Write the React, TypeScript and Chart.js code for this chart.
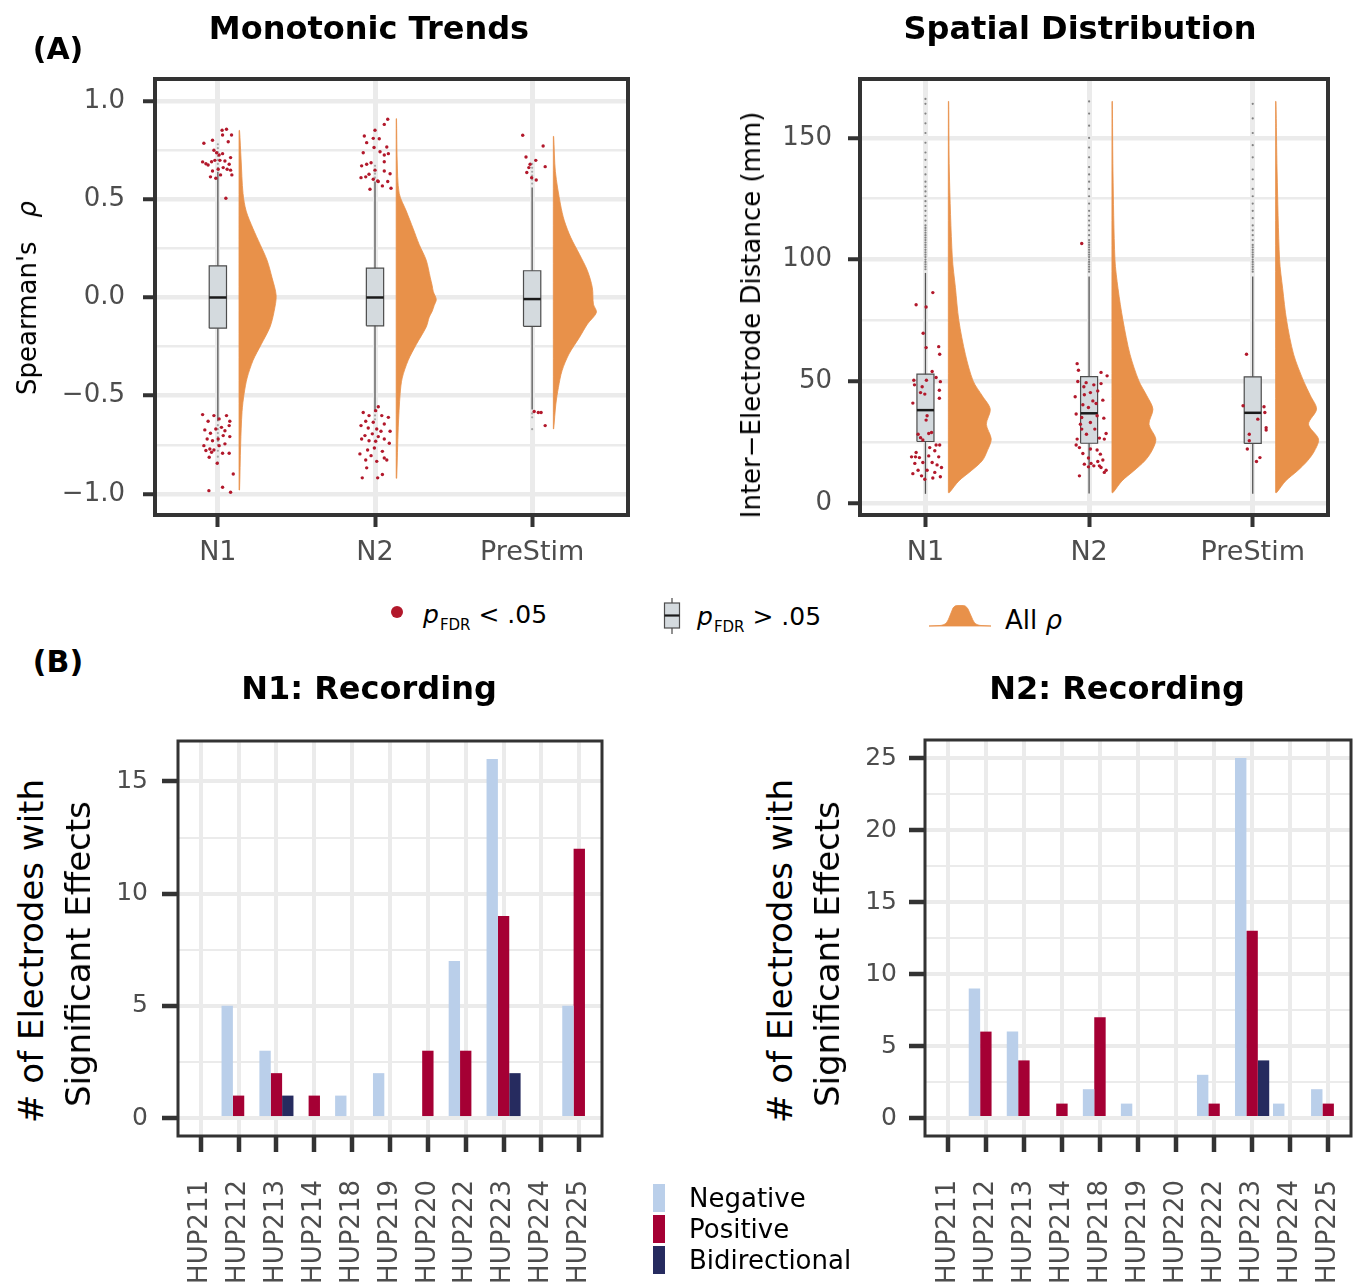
import React, { useEffect, useRef } from 'react';
import { Chart, registerables } from 'chart.js';

Chart.register(...registerables);

const FONT = "'DejaVu Sans', 'Liberation Sans', sans-serif";
const GRID = '#ebebeb';
const TICK_TEXT = '#4d4d4d';
const AXIS_DARK = '#333333';
const ORANGE = '#e8914a';
const SIG_RED = '#b2182b';
const BOX_FILL = '#d4dade';
const BOX_LINE = '#4d4d4d';
const NEG = '#bacfea';
const POS = '#a50034';
const BID = '#262b5f';

// ---------------- Panel A: data ----------------
const rhoGroups = ['N1', 'N2', 'PreStim'];
const rhoMajorTicks = [-1, -0.5, 0, 0.5, 1];
const rhoMajorLabels = ['\u22121.0', '\u22120.5', '0.0', '0.5', '1.0'];
const rhoMinorTicks = [-0.75, -0.25, 0.25, 0.75];

// [lower whisker, Q1, median, Q3, upper whisker]
const rhoBoxN1 = [-0.63, -0.156, 0.0, 0.161, 0.64];
const rhoBoxN2 = [-0.58, -0.144, 0.0, 0.149, 0.59];
const rhoBoxPre = [-0.57, -0.147, -0.008, 0.136, 0.56];

// [rho, half-violin width]
const rhoViolinN1 = [[0.85, 0.003], [0.70, 0.013], [0.53, 0.025], [0.44, 0.045], [0.35, 0.089], [0.27, 0.134], [0.19, 0.178], [0.10, 0.21], [0.01, 0.236], [-0.07, 0.223], [-0.15, 0.197], [-0.24, 0.14], [-0.32, 0.089], [-0.41, 0.051], [-0.49, 0.032], [-0.58, 0.019], [-0.75, 0.01], [-0.98, 0.003]];
const rhoViolinN2 = [[0.91, 0.002], [0.70, 0.006], [0.53, 0.019], [0.44, 0.064], [0.35, 0.108], [0.27, 0.146], [0.19, 0.191], [0.10, 0.217], [0.06, 0.229], [0.03, 0.236], [-0.01, 0.255], [-0.04, 0.242], [-0.07, 0.229], [-0.10, 0.21], [-0.15, 0.191], [-0.24, 0.127], [-0.32, 0.076], [-0.41, 0.038], [-0.49, 0.025], [-0.66, 0.013], [-0.92, 0.003]];
const rhoViolinPre = [[0.82, 0.002], [0.64, 0.013], [0.475, 0.045], [0.39, 0.07], [0.305, 0.111], [0.22, 0.166], [0.136, 0.217], [0.05, 0.248], [-0.034, 0.255], [-0.076, 0.274], [-0.135, 0.217], [-0.203, 0.166], [-0.288, 0.099], [-0.373, 0.055], [-0.458, 0.032], [-0.542, 0.016], [-0.669, 0.002]];

// significant electrodes: [jitter, rho]
const rhoSigN1 = [[0.027, 0.851], [0.055, 0.856], [0.087, 0.827], [0.030, 0.827], [-0.089, 0.785], [-0.034, 0.800], [0.066, 0.793], [-0.025, 0.749], [-0.008, 0.737], [0.030, 0.732], [0.008, 0.725], [0.081, 0.712], [-0.097, 0.690], [-0.076, 0.681], [-0.062, 0.674], [-0.040, 0.691], [-0.019, 0.698], [0.013, 0.698], [0.045, 0.695], [0.072, 0.678], [-0.034, 0.644], [0.002, 0.653], [0.034, 0.661], [0.059, 0.653], [0.081, 0.648], [-0.047, 0.614], [-0.013, 0.607], [0.017, 0.624], [0.089, 0.624], [0.051, 0.505],
  [-0.097, -0.596], [-0.062, -0.630], [-0.025, -0.601], [0.008, -0.618], [0.055, -0.601], [0.076, -0.630], [-0.083, -0.674], [-0.047, -0.691], [-0.013, -0.669], [0.023, -0.661], [0.045, -0.678], [0.072, -0.652], [-0.068, -0.720], [-0.034, -0.729], [0.002, -0.720], [0.034, -0.703], [0.076, -0.708], [-0.089, -0.754], [-0.051, -0.771], [-0.025, -0.776], [0.008, -0.754], [0.045, -0.745], [-0.076, -0.779], [-0.040, -0.788], [0.030, -0.793], [0.072, -0.793], [-0.055, -0.813], [-0.004, -0.844], [0.098, -0.898], [-0.057, -0.983], [0.030, -0.966], [0.081, -0.991]];
const rhoSigN2 = [[0.081, 0.907], [0.059, 0.881], [0, 0.851], [-0.068, 0.822], [-0.011, 0.810], [0.027, 0.808], [-0.053, 0.788], [-0.006, 0.763], [0.075, 0.766], [-0.075, 0.737], [0.032, 0.742], [0.059, 0.725], [0.085, 0.732], [-0.025, 0.686], [-0.053, 0.678], [-0.085, 0.670], [0.059, 0.691], [0, 0.648], [0.059, 0.644], [0.096, 0.630], [-0.089, 0.610], [-0.059, 0.614], [-0.038, 0.627], [-0.011, 0.602], [0.017, 0.593], [0.047, 0.568], [0.081, 0.590], [0.102, 0.556], [-0.032, 0.551], [0.021, 0.590],
  [0.021, -0.556], [0.004, -0.576], [-0.075, -0.585], [-0.038, -0.601], [0.043, -0.601], [0.085, -0.610], [-0.059, -0.630], [-0.011, -0.635], [0.059, -0.644], [-0.089, -0.652], [-0.043, -0.664], [0.011, -0.669], [0.038, -0.681], [0.096, -0.681], [-0.064, -0.703], [-0.017, -0.694], [0.021, -0.708], [0.059, -0.720], [-0.085, -0.720], [-0.038, -0.729], [0.004, -0.732], [0.091, -0.742], [-0.047, -0.776], [-0.004, -0.766], [0.047, -0.783], [-0.096, -0.796], [-0.025, -0.805], [0.059, -0.817], [0.075, -0.827], [-0.059, -0.827], [0.011, -0.834], [-0.053, -0.867], [-0.081, -0.918], [0.017, -0.918], [0.047, -0.901]];
const rhoSigPre = [[-0.060, 0.826], [0.070, 0.771], [-0.039, 0.715], [0.023, 0.698], [-0.013, 0.678], [0.083, 0.666], [-0.021, 0.661], [-0.034, 0.636], [-0.003, 0.610], [0.026, 0.598],
  [0.039, -0.585], [0.057, -0.585], [0.013, -0.580], [0.083, -0.652]];

// box-plot outliers (rho)
const rhoOutN1 = [0.66, 0.68, 0.70, 0.72, 0.74, 0.76, 0.78, -0.65, -0.67, -0.69, -0.71, -0.73, -0.75, -0.78, -0.81, -0.84];
const rhoOutN2 = [0.61, 0.63, 0.65, 0.67, -0.60, -0.62];
const rhoOutPre = [0.58, 0.60, 0.62, 0.64, 0.66, 0.68, -0.59, -0.61, -0.67];

// ---------------- Panel A right: distance ----------------
const distMajorTicks = [0, 50, 100, 150];
const distMajorLabels = ['0', '50', '100', '150'];
const distMinorTicks = [25, 75, 125];

const distBoxN1 = [3.7, 25.2, 38.1, 52.9, 94.5];
const distBoxN2 = [3.8, 24.5, 36.8, 51.9, 93];
const distBoxPre = [3.7, 24.4, 37.0, 51.8, 93];

const distViolinN1 = [[165, 0.002], [136, 0.006], [101, 0.024], [88.5, 0.043], [75, 0.064], [61, 0.104], [50, 0.152], [44, 0.207], [38.5, 0.256], [32.3, 0.232], [26.2, 0.262], [21.4, 0.238], [17.3, 0.207], [13.2, 0.14], [9, 0.064], [4.2, 0.006]];
const distViolinN2 = [[165, 0.002], [136, 0.006], [100, 0.018], [88, 0.037], [75, 0.067], [61, 0.11], [50, 0.165], [44, 0.213], [38.5, 0.25], [32.3, 0.226], [26.2, 0.268], [21.4, 0.244], [17.3, 0.201], [13.2, 0.134], [9, 0.061], [4.2, 0.006]];
const distViolinPre = [[165, 0.002], [136, 0.009], [100, 0.024], [88, 0.043], [75, 0.067], [61, 0.11], [50, 0.171], [44, 0.213], [38.5, 0.25], [32.3, 0.201], [26.2, 0.262], [21.4, 0.238], [17.3, 0.195], [13.2, 0.134], [9, 0.061], [4.2, 0.006]];

const distSigN1 = [[0.045, 86.4], [-0.057, 81.4], [0.004, 80.5], [-0.014, 69.7], [0.004, 63.8], [0.081, 64.2], [0.087, 61.1], [0.041, 54.0], [-0.071, 50.4], [-0.067, 48.5], [-0.020, 47.7], [0.006, 50.4], [0.065, 51.5], [0.091, 49.8], [0.085, 46.3], [-0.030, 45.3], [-0.004, 44.7], [-0.077, 41.0], [0.085, 43.0], [0.010, 35.8], [0.004, 34.0], [-0.045, 28.2], [0.020, 28.5], [0.037, 28.9], [-0.030, 26.8], [-0.016, 25.8], [0.065, 23.8], [0.087, 23.8], [0.026, 22.7], [-0.057, 20.7], [0.057, 21.4], [-0.085, 18.9], [-0.037, 18.6], [0.020, 19.3], [0.081, 18.9], [-0.065, 16.2], [-0.016, 16.6], [0.041, 16.6], [0.071, 15.6], [0.098, 14.5], [-0.045, 13.4], [0.010, 13.4], [0.057, 12.5], [-0.077, 12.0], [-0.024, 11.1], [-0.004, 9.7], [0.045, 10.2], [0.091, 10.7], [-0.061, 18.9]];
const distSigN2 = [[-0.045, 106.6], [-0.073, 57.2], [-0.065, 54.5], [0.073, 53.6], [0.110, 52.2], [-0.069, 49.9], [-0.018, 49.4], [0.029, 48.5], [0.073, 49.0], [-0.032, 47.7], [0.008, 45.3], [0.053, 46.0], [-0.085, 43.6], [-0.029, 44.4], [0.023, 41.9], [0.043, 40.8], [0.084, 42.2], [-0.038, 40.3], [-0.004, 39.2], [-0.079, 36.5], [-0.045, 35.1], [0.049, 35.8], [0.090, 34.8], [-0.053, 32.3], [0.008, 33.0], [-0.045, 30.3], [0.035, 30.3], [0.104, 28.5], [-0.016, 28.2], [-0.073, 26.2], [0.063, 26.6], [0.093, 26.2], [-0.079, 23.8], [-0.059, 22.7], [0.008, 22.1], [0.049, 21.7], [-0.038, 20.3], [0.069, 20.0], [-0.004, 18.4], [0.084, 17.6], [0.012, 16.2], [0.053, 17.0], [-0.004, 14.8], [0.029, 15.2], [0.073, 14.5], [0.104, 13.4], [0.093, 12.5], [-0.059, 11.1], [0.063, 15.2], [-0.029, 15.9]];
const distSigPre = [[-0.038, 61.1], [-0.059, 39.9], [0.069, 39.5], [0.031, 34.4], [0.074, 37.1], [0.082, 30.9], [0.082, 29.9], [-0.021, 28.2], [-0.021, 25.5], [-0.033, 22.1], [0.044, 18.6], [0.023, 17.0]];

const distOutN1 = [96, 97, 98, 99, 100, 101, 102, 103, 104, 105, 106, 107, 108, 109, 110, 111, 112, 113, 114, 116, 118, 120, 122, 124, 126, 128, 130, 132, 135, 138, 141, 144, 148, 152, 156, 160, 164, 166];
const distOutN2 = [95, 96, 97, 98, 99, 100, 101, 102, 103, 104, 105, 106, 107, 108, 110, 112, 114, 116, 118, 120, 123, 126, 129, 132, 135, 138, 142, 146, 150, 155, 160, 165];
const distOutPre = [95, 96, 97, 98, 99, 100, 101, 102, 103, 104, 105, 106, 108, 110, 112, 114, 117, 120, 123, 126, 129, 133, 137, 142, 147, 152, 158, 164];

// ---------------- Panel B: bars ----------------
const patients = ['HUP211', 'HUP212', 'HUP213', 'HUP214', 'HUP218', 'HUP219', 'HUP220', 'HUP222', 'HUP223', 'HUP224', 'HUP225'];
const effectTypes = ['Negative', 'Positive', 'Bidirectional'];
const n1Negative = [0, 5, 3, 0, 1, 2, 0, 7, 16, 0, 5];
const n1Positive = [0, 1, 2, 1, 0, 0, 3, 3, 9, 0, 12];
const n1Bidirectional = [0, 0, 1, 0, 0, 0, 0, 0, 2, 0, 0];
const n2Negative = [0, 9, 6, 0, 2, 1, 0, 3, 25, 1, 2];
const n2Positive = [0, 6, 4, 1, 7, 0, 0, 1, 13, 0, 1];
const n2Bidirectional = [0, 0, 0, 0, 0, 0, 0, 0, 4, 0, 0];
const n1MajorTicks = [0, 5, 10, 15];
const n1MinorTicks = [2.5, 7.5, 12.5];
const n2MajorTicks = [0, 5, 10, 15, 20, 25];
const n2MinorTicks = [2.5, 7.5, 12.5, 17.5, 22.5];

// ---------------- helpers ----------------
const panelBorder = {
  id: 'panelBorder',
  afterDraw(chart: any, _args: any, opts: any) {
    const { ctx, chartArea } = chart;
    const { left, top, right, bottom } = chartArea;
    ctx.save();
    ctx.strokeStyle = opts.color || AXIS_DARK;
    ctx.lineWidth = opts.width || 3;
    ctx.strokeRect(left, top, right - left, bottom - top);
    ctx.restore();
  },
};

function violinPolygon(base: number, profile: number[][]) {
  const sorted = [...profile].sort((a, b) => a[0] - b[0]);
  const yMin = sorted[0][0];
  const yMax = sorted[sorted.length - 1][0];
  return [
    { x: base, y: yMin },
    ...sorted.map(([y, w]) => ({ x: base + w, y })),
    { x: base, y: yMax },
    { x: base, y: yMin },
  ];
}

function raincloudDatasets(boxes: number[][], violins: number[][][], sig: number[][][], outs: number[][], boxHalf: number, violinOffset: number, outColor: string) {
  const ds: any[] = [];
  boxes.forEach((b, i) => {
    const c = i + 1;
    const [lo, q1, med, q3, hi] = b;
    ds.push({ data: violinPolygon(c + violinOffset, violins[i]), showLine: true, fill: 'shape', tension: 0.3, backgroundColor: ORANGE, borderColor: ORANGE, borderWidth: 0.8, pointRadius: 0, order: 6 });
    ds.push({ data: [{ x: c, y: lo }, { x: c, y: hi }], showLine: true, fill: false, borderColor: '#555555', borderWidth: 1.3, pointRadius: 0, order: 5 });
    ds.push({ data: outs[i].map((v) => ({ x: c, y: v })), showLine: false, pointRadius: 1.1, backgroundColor: outColor, borderColor: 'rgba(0,0,0,0)', pointBorderWidth: 0, order: 5 });
    ds.push({ data: [{ x: c - boxHalf, y: q1 }, { x: c + boxHalf, y: q1 }, { x: c + boxHalf, y: q3 }, { x: c - boxHalf, y: q3 }, { x: c - boxHalf, y: q1 }], showLine: true, fill: 'shape', backgroundColor: BOX_FILL, borderColor: BOX_LINE, borderWidth: 1.2, pointRadius: 0, order: 4 });
    ds.push({ data: [{ x: c - boxHalf, y: med }, { x: c + boxHalf, y: med }], showLine: true, fill: false, borderColor: '#1a1a1a', borderWidth: 2.5, pointRadius: 0, order: 3 });
    ds.push({ data: sig[i].map(([dx, v]) => ({ x: c + dx, y: v })), showLine: false, pointRadius: 1.7, backgroundColor: SIG_RED, borderColor: SIG_RED, pointBorderWidth: 0, order: 1 });
  });
  return ds;
}

function valueAxis(o: { min: number; max: number; major: number[]; minor: number[]; labels: string[]; width: number; padding: number; tickLength: number; majorWidth: number; minorWidth: number; tickWidth: number; fontSize: number }) {
  const all = [...o.major, ...o.minor].sort((a, b) => a - b);
  const isMajor = (v: any) => o.major.indexOf(v) >= 0;
  return {
    type: 'linear',
    min: o.min,
    max: o.max,
    afterBuildTicks: (s: any) => { s.ticks = all.map((v) => ({ value: v })); },
    afterFit: (s: any) => { s.width = o.width; s.paddingTop = 0; s.paddingBottom = 0; s.paddingLeft = 0; s.paddingRight = 0; },
    ticks: {
      autoSkip: false,
      padding: o.padding,
      color: TICK_TEXT,
      font: { family: FONT, size: o.fontSize },
      callback: (v: any) => { const i = o.major.indexOf(v); return i >= 0 ? o.labels[i] : ''; },
    },
    grid: {
      color: GRID,
      lineWidth: (ctx: any) => (ctx.tick && isMajor(ctx.tick.value) ? o.majorWidth : o.minorWidth),
      tickColor: (ctx: any) => (ctx.tick && isMajor(ctx.tick.value) ? AXIS_DARK : 'rgba(0,0,0,0)'),
      tickWidth: o.tickWidth,
      tickLength: o.tickLength,
      drawTicks: true,
    },
    border: { display: false },
  };
}

function categoryAxis(o: { min: number; max: number; labels: string[]; height: number; padding: number; tickLength: number; gridWidth: number; tickWidth: number; fontSize: number; rotate: boolean }) {
  return {
    type: 'linear',
    min: o.min,
    max: o.max,
    offset: false,
    afterBuildTicks: (s: any) => { s.ticks = o.labels.map((_, i) => ({ value: i + 1 })); },
    afterFit: (s: any) => { s.height = o.height; s.paddingTop = 0; s.paddingBottom = 0; s.paddingLeft = 0; s.paddingRight = 0; },
    ticks: {
      autoSkip: false,
      padding: o.padding,
      color: TICK_TEXT,
      font: { family: FONT, size: o.fontSize },
      minRotation: o.rotate ? 90 : 0,
      maxRotation: o.rotate ? 90 : 0,
      callback: (_v: any, i: number) => o.labels[i],
    },
    grid: { color: GRID, lineWidth: o.gridWidth, tickColor: AXIS_DARK, tickWidth: o.tickWidth, tickLength: o.tickLength, drawTicks: true, offset: false },
    border: { display: false },
  };
}

function baseOptions(padding: any, borderWidth: number) {
  return {
    animation: false,
    responsive: false,
    maintainAspectRatio: false,
    events: [],
    layout: { padding },
    plugins: { legend: { display: false }, tooltip: { enabled: false }, title: { display: false }, panelBorder: { color: AXIS_DARK, width: borderWidth } },
  };
}

function makeRhoChart(canvas: HTMLCanvasElement) {
  return new Chart(canvas, {
    type: 'scatter',
    data: { datasets: raincloudDatasets([rhoBoxN1, rhoBoxN2, rhoBoxPre], [rhoViolinN1, rhoViolinN2, rhoViolinPre], [rhoSigN1, rhoSigN2, rhoSigPre], [rhoOutN1, rhoOutN2, rhoOutPre], 0.055, 0.135, 'rgba(80,80,80,0.45)') },
    options: {
      ...baseOptions({ left: 0, top: 49, right: 12, bottom: 0 }, 4),
      scales: {
        x: categoryAxis({ min: 0.6, max: 3.61, labels: rhoGroups, height: 76, padding: 10, tickLength: 12, gridWidth: 5, tickWidth: 4, fontSize: 27, rotate: false }),
        y: valueAxis({ min: -1.107, max: 1.112, major: rhoMajorTicks, minor: rhoMinorTicks, labels: rhoMajorLabels, width: 155, padding: 18, tickLength: 12, majorWidth: 4.5, minorWidth: 2.5, tickWidth: 4, fontSize: 26 }),
      },
    } as any,
    plugins: [panelBorder],
  } as any);
}

function makeDistChart(canvas: HTMLCanvasElement) {
  return new Chart(canvas, {
    type: 'scatter',
    data: { datasets: raincloudDatasets([distBoxN1, distBoxN2, distBoxPre], [distViolinN1, distViolinN2, distViolinPre], [distSigN1, distSigN2, distSigPre], [distOutN1, distOutN2, distOutPre], 0.052, 0.14, 'rgba(60,60,60,0.6)') },
    options: {
      ...baseOptions({ left: 0, top: 49, right: 32, bottom: 0 }, 4),
      scales: {
        x: categoryAxis({ min: 0.6, max: 3.46, labels: rhoGroups, height: 76, padding: 10, tickLength: 12, gridWidth: 5, tickWidth: 4, fontSize: 27, rotate: false }),
        y: valueAxis({ min: -5, max: 174.2, major: distMajorTicks, minor: distMinorTicks, labels: distMajorLabels, width: 170, padding: 16, tickLength: 12, majorWidth: 4.5, minorWidth: 2.5, tickWidth: 4, fontSize: 26 }),
      },
    } as any,
    plugins: [panelBorder],
  } as any);
}

function barDatasets(neg: number[], pos: number[], bid: number[]) {
  const series = [neg, pos, bid];
  const colors = [NEG, POS, BID];
  return effectTypes.map((name, k) => ({
    label: name,
    data: patients.map((_, i) => ({ x: i + 1, y: series[k][i] })),
    backgroundColor: colors[k],
    borderWidth: 0,
    categoryPercentage: 0.9,
    barPercentage: 1,
    grouped: true,
  }));
}

function makeBarChart(canvas: HTMLCanvasElement, which: 'n1' | 'n2') {
  const isN1 = which === 'n1';
  const major = isN1 ? n1MajorTicks : n2MajorTicks;
  const minor = isN1 ? n1MinorTicks : n2MinorTicks;
  return new Chart(canvas, {
    type: 'bar',
    data: { datasets: isN1 ? barDatasets(n1Negative, n1Positive, n1Bidirectional) : barDatasets(n2Negative, n2Positive, n2Bidirectional) },
    options: {
      ...baseOptions(isN1 ? { left: 0, top: 41, right: 18, bottom: 0 } : { left: 0, top: 40, right: 9, bottom: 0 }, 3),
      scales: {
        x: categoryAxis({ min: 0.4, max: 11.6, labels: patients, height: 150, padding: 28, tickLength: 16, gridWidth: 4, tickWidth: 4.5, fontSize: 26, rotate: true }),
        y: valueAxis({ min: isN1 ? -0.8 : -1.25, max: isN1 ? 16.8 : 26.25, major, minor, labels: major.map(String), width: isN1 ? 88 : 85, padding: isN1 ? 14 : 12, tickLength: 16, majorWidth: 4, minorWidth: 2, tickWidth: 4.5, fontSize: 25 }),
      },
    } as any,
    plugins: [panelBorder],
  } as any);
}

function ChartCanvas(props: { left: number; top: number; width: number; height: number; make: (c: HTMLCanvasElement) => any }) {
  const ref = useRef<HTMLCanvasElement>(null);
  useEffect(() => {
    const chart = props.make(ref.current as HTMLCanvasElement);
    return () => chart.destroy();
  }, []);
  return (
    <canvas
      ref={ref}
      width={props.width}
      height={props.height}
      style={{ position: 'absolute', left: props.left, top: props.top, width: props.width, height: props.height }}
    />
  );
}

function Label(props: { x: number; y: number; size: number; bold?: boolean; rotate?: boolean; color?: string; children: any }) {
  return (
    <div
      style={{
        position: 'absolute',
        left: props.x,
        top: props.y,
        transform: `translate(-50%, -50%)${props.rotate ? ' rotate(-90deg)' : ''}`,
        fontFamily: FONT,
        fontSize: props.size,
        fontWeight: props.bold ? 700 : 400,
        lineHeight: 1,
        whiteSpace: 'nowrap',
        color: props.color || '#000',
      }}
    >
      {props.children}
    </div>
  );
}

function PFdr(props: { sign: string }) {
  return (
    <span>
      <span style={{ fontStyle: 'italic' }}>p</span>
      <span style={{ fontSize: 15, position: 'relative', top: 7, marginLeft: 1 }}>FDR</span>
      <span>{` ${props.sign} .05`}</span>
    </span>
  );
}

export default function App() {
  const legendKeys = [NEG, POS, BID];
  return (
    <div style={{ position: 'absolute', left: 0, top: 0, width: 1360, height: 1286, background: '#ffffff', overflow: 'hidden' }}>
      <ChartCanvas left={0} top={30} width={640} height={561} make={makeRhoChart} />
      <ChartCanvas left={690} top={30} width={670} height={561} make={makeDistChart} />
      <ChartCanvas left={90} top={700} width={530} height={586} make={(c) => makeBarChart(c, 'n1')} />
      <ChartCanvas left={840} top={700} width={520} height={586} make={(c) => makeBarChart(c, 'n2')} />

      <Label x={58} y={49} size={30} bold>(A)</Label>
      <Label x={369} y={28} size={32} bold>Monotonic Trends</Label>
      <Label x={1080} y={28} size={32} bold>Spatial Distribution</Label>
      <Label x={58} y={662} size={30} bold>(B)</Label>
      <Label x={369} y={688} size={32} bold>N1: Recording</Label>
      <Label x={1117} y={688} size={32} bold>N2: Recording</Label>

      <Label x={27} y={298} size={26} rotate>
        <span>Spearman's</span>
        <span style={{ marginLeft: 24, fontStyle: 'italic' }}>ρ</span>
      </Label>
      <Label x={751} y={315} size={26} rotate>Inter{'\u2212'}Electrode Distance (mm)</Label>
      <Label x={31} y={951} size={34} rotate># of Electrodes with</Label>
      <Label x={78} y={954} size={34} rotate>Significant Effects</Label>
      <Label x={780} y={951} size={34} rotate># of Electrodes with</Label>
      <Label x={827} y={954} size={34} rotate>Significant Effects</Label>

      {/* Panel A legend */}
      <div style={{ position: 'absolute', left: 391, top: 606, width: 12, height: 12, borderRadius: 6, background: SIG_RED }} />
      <div style={{ position: 'absolute', left: 423, top: 602, fontFamily: FONT, fontSize: 25, lineHeight: 1, whiteSpace: 'nowrap', color: '#000' }}>
        <PFdr sign="<" />
      </div>
      <svg style={{ position: 'absolute', left: 662, top: 597 }} width={20} height={38}>
        <line x1={10} y1={1} x2={10} y2={6} stroke="#555" strokeWidth={1.3} />
        <line x1={10} y1={31} x2={10} y2={37} stroke="#555" strokeWidth={1.3} />
        <rect x={2.5} y={6} width={15} height={25} fill={BOX_FILL} stroke={BOX_LINE} strokeWidth={1.2} />
        <line x1={2.5} y1={18.5} x2={17.5} y2={18.5} stroke="#1a1a1a" strokeWidth={2.2} />
      </svg>
      <div style={{ position: 'absolute', left: 697, top: 604, fontFamily: FONT, fontSize: 25, lineHeight: 1, whiteSpace: 'nowrap', color: '#000' }}>
        <PFdr sign=">" />
      </div>
      <svg style={{ position: 'absolute', left: 928, top: 603 }} width={64} height={26}>
        <path d="M1,23 L12,22.5 C17,22 19,20 21,15 L25,5 C27,2.5 28,2.5 31,2.5 L34,2.5 C37,2.5 38,3 40,6 L44,15 C46,20 48,22 53,22.5 L63,23 Z" fill={ORANGE} stroke={ORANGE} strokeWidth={0.8} />
      </svg>
      <div style={{ position: 'absolute', left: 1005, top: 607, fontFamily: FONT, fontSize: 26, lineHeight: 1, whiteSpace: 'nowrap', color: '#000' }}>
        All <span style={{ fontStyle: 'italic' }}>ρ</span>
      </div>

      {/* Panel B legend */}
      {effectTypes.map((name, k) => (
        <React.Fragment key={name}>
          <div style={{ position: 'absolute', left: 653, top: 1184 + k * 31, width: 12, height: 28, background: legendKeys[k] }} />
          <div style={{ position: 'absolute', left: 689, top: 1185 + k * 31, fontFamily: FONT, fontSize: 26, lineHeight: 1, whiteSpace: 'nowrap', color: '#000' }}>{name}</div>
        </React.Fragment>
      ))}
    </div>
  );
}
